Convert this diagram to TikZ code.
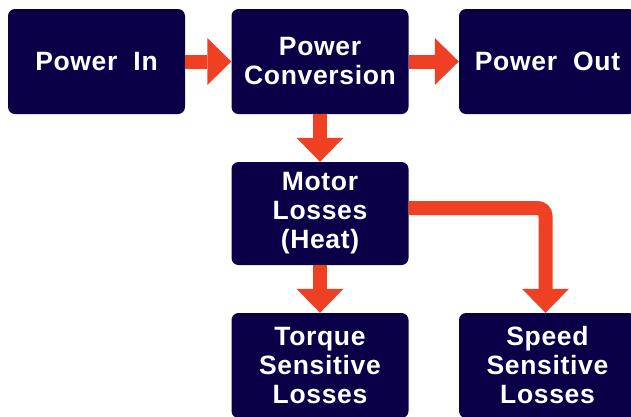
\documentclass[tikz,border=0pt]{standalone}
\usepackage{fontspec}
\setmainfont{Liberation Sans}[LetterSpace=2.5]
\usetikzlibrary{arrows.meta}
\definecolor{boxnavy}{RGB}{10,0,72}
\definecolor{flowred}{RGB}{240,64,36}
\tikzset{
  blk/.style={fill=boxnavy, rounded corners=7pt, minimum width=177pt,
    minimum height=105pt, inner sep=0pt, text=white, align=center,
    font=\bfseries\fontsize{26.5}{29}\selectfont},
  flow/.style={draw=flowred, line width=14pt,
    -{Triangle[width=47pt,length=24pt,line width=0pt]}}
}
\begin{document}
\begin{tikzpicture}[x=1pt, y=-1pt]
  \useasboundingbox (0,0) rectangle (631,416);

  \node[blk] (pin) at (96.5,61.5) {Power\ \ In};
  \node[blk] (conv) at (320,61.5) {Power\\Conversion};
  \node[blk] (pout) at (547.5,61.5) {Power\ \ Out};
  \node[blk, minimum height=103pt] (motor) at (320,213.5) {Motor\\Losses\\(Heat)};
  \node[blk] (torque) at (320,365.5) {Torque\\Sensitive\\Losses};
  \node[blk] (speed) at (547.5,365.5) {Speed\\Sensitive\\Losses};

  \draw[flow] (pin) -- (conv);
  \draw[flow] (conv) -- (pout);
  \draw[flow] (conv) -- (motor);
  \draw[flow] (motor) -- (torque);
  \draw[flow, rounded corners=8pt] ([yshift=5.5pt]motor.east) -| ([xshift=-2pt]speed.north);
\end{tikzpicture}
\end{document}
